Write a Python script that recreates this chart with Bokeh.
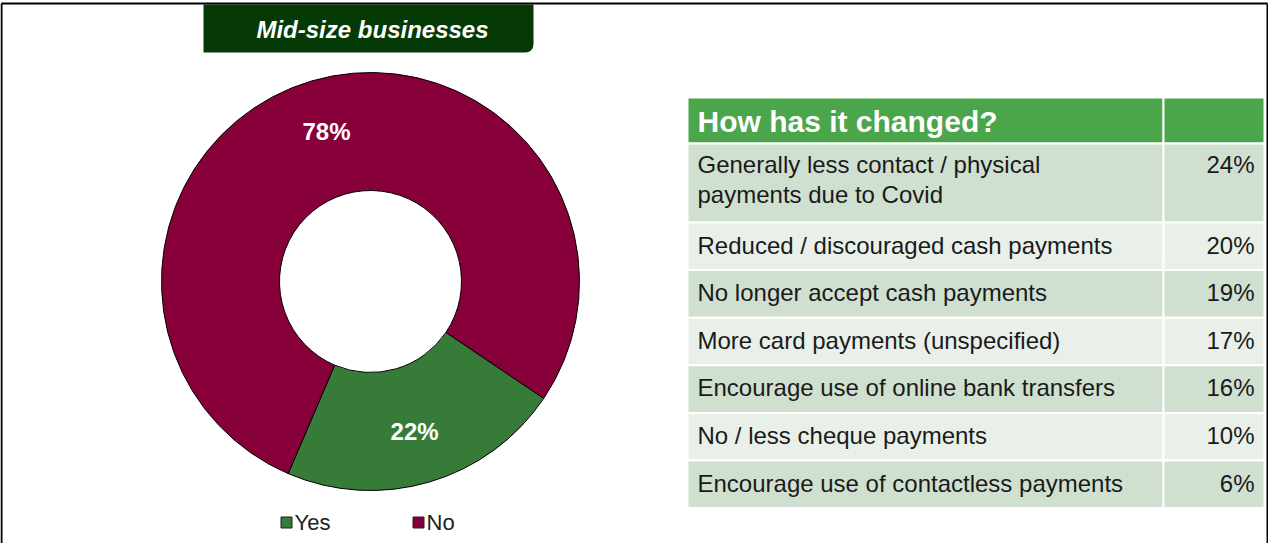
import math
from bokeh.plotting import figure
from bokeh.models import Range1d, BoxAnnotation
from bokeh.core.properties import value
from bokeh.embed import file_html
from bokeh.resources import INLINE

# ---------------- data ----------------
title = "Mid-size businesses"
donut_labels = ["Yes", "No"]
donut_values = [22, 78]
donut_colors = ["#377b39", "#87003a"]

table_header = "How has it changed?"
reasons = [
    "Generally less contact / physical\npayments due to Covid",
    "Reduced / discouraged cash payments",
    "No longer accept cash payments",
    "More card payments (unspecified)",
    "Encourage use of online bank transfers",
    "No / less cheque payments",
    "Encourage use of contactless payments",
]
reason_pct = [24, 20, 19, 17, 16, 10, 6]

# ---------------- layout helpers ----------------
PAGE_H = 559
def Y(py):
    return PAGE_H - py

FONT = value("Liberation Sans")

p = figure(width=1268, height=543, x_range=Range1d(8, 1276), y_range=Range1d(8, 551),
           output_backend="svg", toolbar_location=None, min_border=0,
           background_fill_color="white", border_fill_color="white")
p.axis.visible = False
p.grid.visible = False
p.outline_line_color = None

# frame
p.multi_line(xs=[[9, 9], [9, 1275], [1275, 1275]],
             ys=[[Y(559), Y(11)], [Y(11), Y(11)], [Y(11), Y(559)]],
             line_color="black", line_width=2)

# title box
p.add_layout(BoxAnnotation(left=211, right=541, top=Y(12), bottom=Y(60),
                           fill_color="#053a06", fill_alpha=1, line_color=None, level="underlay",
                           border_radius=dict(top_left=0, top_right=0, bottom_right=8, bottom_left=0)))
p.text(x=[380], y=[Y(37)], text=[title], text_align="center", text_baseline="middle",
       text_color="white", text_font=FONT, text_font_size="24px", text_font_style="bold italic")

# donut
cx, cy = 378, Y(289)
r_in, r_out = 91, 209
start_clock = 124.0  # degrees clockwise from 12 o'clock
total = sum(donut_values)
starts, ends, mids = [], [], []
acc = start_clock
for v in donut_values:
    span = 360.0 * v / total
    s = math.radians(90 - acc)
    e = math.radians(90 - (acc + span))
    starts.append(s)
    ends.append(e)
    mids.append((s + e) / 2)
    acc += span
p.annular_wedge(x=[cx] * len(donut_values), y=[cy] * len(donut_values),
                inner_radius=r_in, outer_radius=r_out,
                start_angle=starts, end_angle=ends, direction="clock",
                fill_color=donut_colors, line_color="black", line_width=1)
r_lab = (r_in + r_out) / 2 + 6
p.text(x=[cx + r_lab * math.cos(m) for m in mids],
       y=[cy + r_lab * math.sin(m) for m in mids],
       text=[f"{v}%" for v in donut_values], text_align="center", text_baseline="middle",
       text_color="white", text_font=FONT, text_font_size="24px", text_font_style="bold")

# legend
leg_x = [294, 426]
p.rect(x=leg_x, y=[Y(530)] * 2, width=11, height=11, fill_color=donut_colors,
       line_color="#222222", line_width=1)
p.text(x=[x + 8 for x in leg_x], y=[Y(530)] * 2, text=donut_labels, text_align="left",
       text_baseline="middle", text_color="#222222", text_font=FONT, text_font_size="22px")

# table
tx0, tx1, tx2 = 695, 1171, 1272
head_top, head_h = 105, 46
row_hs = [79] + [47.6] * (len(reasons) - 1)
p.quad(left=[tx0, tx1], right=[tx1, tx2], top=[Y(head_top)] * 2, bottom=[Y(head_top + head_h)] * 2,
       fill_color="#4aa54b", line_color="white", line_width=2)
p.text(x=[tx0 + 10], y=[Y(head_top + head_h / 2 + 1)], text=[table_header], text_align="left",
       text_baseline="middle", text_color="white", text_font=FONT, text_font_size="30px",
       text_font_style="bold")

row_tops = []
t = head_top + head_h
for h in row_hs:
    row_tops.append(t)
    t += h
row_bots = [rt + h for rt, h in zip(row_tops, row_hs)]
row_cols = ["#d0e0d0" if i % 2 == 0 else "#e9f0e9" for i in range(len(reasons))]
for left, right in [(tx0, tx1), (tx1, tx2)]:
    p.quad(left=[left] * len(reasons), right=[right] * len(reasons),
           top=[Y(v) for v in row_tops], bottom=[Y(v) for v in row_bots],
           fill_color=row_cols, line_color="white", line_width=2)

text_y = [Y(rt + (7 if i == 0 else 9)) for i, rt in enumerate(row_tops)]
p.text(x=[tx0 + 10] * len(reasons), y=text_y, text=reasons,
       text_align="left", text_baseline="top", text_color="#1a1a1a", text_font=FONT,
       text_font_size="24px", text_line_height=1.12)
p.text(x=[tx2 - 10] * len(reasons), y=text_y,
       text=[f"{v}%" for v in reason_pct], text_align="right", text_baseline="top",
       text_color="#1a1a1a", text_font=FONT, text_font_size="24px")

open("out.html", "w").write(file_html(p, INLINE))
